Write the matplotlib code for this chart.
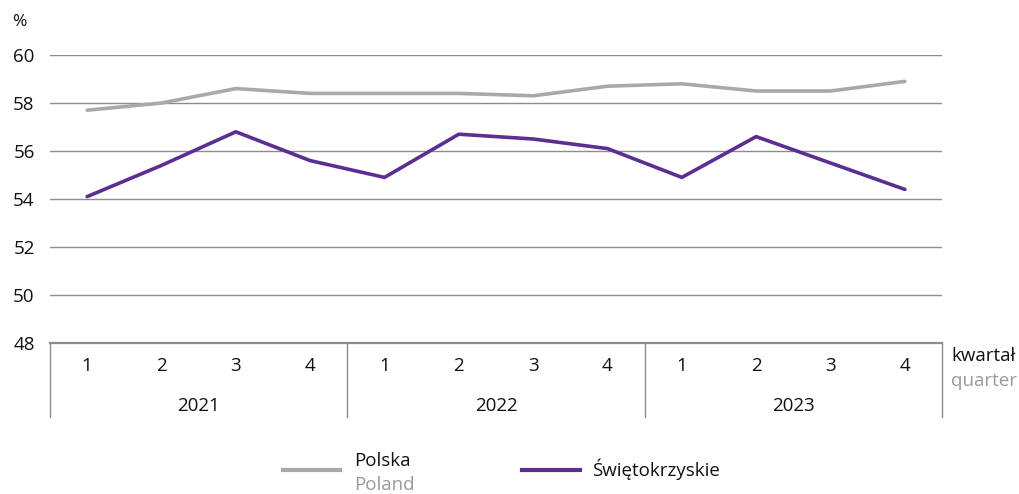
import matplotlib
matplotlib.use("Agg")
import matplotlib.pyplot as plt
import matplotlib.transforms as mtransforms
from matplotlib.lines import Line2D

plt.rcParams['font.family'] = ['Open Sans', 'DejaVu Sans']

years = ["2021", "2022", "2023"]
quarters = ["1", "2", "3", "4"]
polska = [57.7, 58.0, 58.6, 58.4, 58.4, 58.4, 58.3, 58.7, 58.8, 58.5, 58.5, 58.9]
swietokrzyskie = [54.1, 55.4, 56.8, 55.6, 54.9, 56.7, 56.5, 56.1, 54.9, 56.6, 55.5, 54.4]
yticks = [48, 50, 52, 54, 56, 58, 60]

GRAY_LINE = "#a7a9ac"
PURPLE = "#5b2e91"
GRID = "#8c8c8c"
TEXT = "#111111"
SUB = "#9a9a9a"
FS = 13.5

W, H = 1020, 494
fig = plt.figure(figsize=(W / 100, H / 100), dpi=100)
ax = fig.add_axes([50 / W, 1 - 343 / H, (942 - 50) / W, (343 - 55) / H])

x = list(range(len(polska)))
ax.set_xlim(-0.5, len(polska) - 0.5)
ax.set_ylim(48, 60)

for v in yticks[1:]:
    ax.axhline(v, color=GRID, lw=1.0, zorder=1)
ax.axhline(48, color=GRID, lw=1.6, zorder=1, clip_on=False)

ax.plot(x, polska, color=GRAY_LINE, lw=2.6, solid_capstyle='round', zorder=3)
ax.plot(x, swietokrzyskie, color=PURPLE, lw=2.6, solid_capstyle='round', zorder=3)

for s in ax.spines.values():
    s.set_visible(False)
ax.set_xticks([])
ax.set_yticks(yticks)
ax.set_yticklabels([str(v) for v in yticks], fontsize=FS, color=TEXT)
ax.tick_params(axis='y', length=0, pad=11)

# grouped category axis: quarters within years
trans = mtransforms.blended_transform_factory(ax.transData, ax.transAxes)
n_q = len(quarters)
for i in range(len(years) + 1):
    xs = i * n_q - 0.5
    ax.plot([xs, xs], [0, -74 / 288], color=GRID, lw=1.0, transform=trans, clip_on=False)
for yi, yr in enumerate(years):
    for qi, q in enumerate(quarters):
        ax.text(yi * n_q + qi, -23 / 288, q, transform=trans, ha='center', va='center',
                fontsize=FS, color=TEXT)
    ax.text(yi * n_q + (n_q - 1) / 2, -63 / 288, yr, transform=trans, ha='center',
            va='center', fontsize=FS, color=TEXT)

fig.text(12 / W, 1 - 22 / H, "%", fontsize=12.5, color=TEXT, ha='left', va='center')
fig.text(951 / W, 1 - 356 / H, "kwartał", fontsize=FS, color=TEXT, ha='left', va='center')
fig.text(951 / W, 1 - 381 / H, "quarter", fontsize=FS, color=SUB, ha='left', va='center')

# legend
fig.add_artist(Line2D([283 / W, 340 / W], [1 - 470 / H] * 2, color=GRAY_LINE, lw=3.0,
                      transform=fig.transFigure))
fig.text(354 / W, 1 - 461 / H, "Polska", fontsize=FS, color=TEXT, ha='left', va='center')
fig.text(354 / W, 1 - 485 / H, "Poland", fontsize=FS, color=SUB, ha='left', va='center')
fig.add_artist(Line2D([522 / W, 580 / W], [1 - 470 / H] * 2, color=PURPLE, lw=3.0,
                      transform=fig.transFigure))
fig.text(592 / W, 1 - 469 / H, "Świętokrzyskie", fontsize=FS, color=TEXT, ha='left', va='center')

fig.savefig("out.png", dpi=100)
